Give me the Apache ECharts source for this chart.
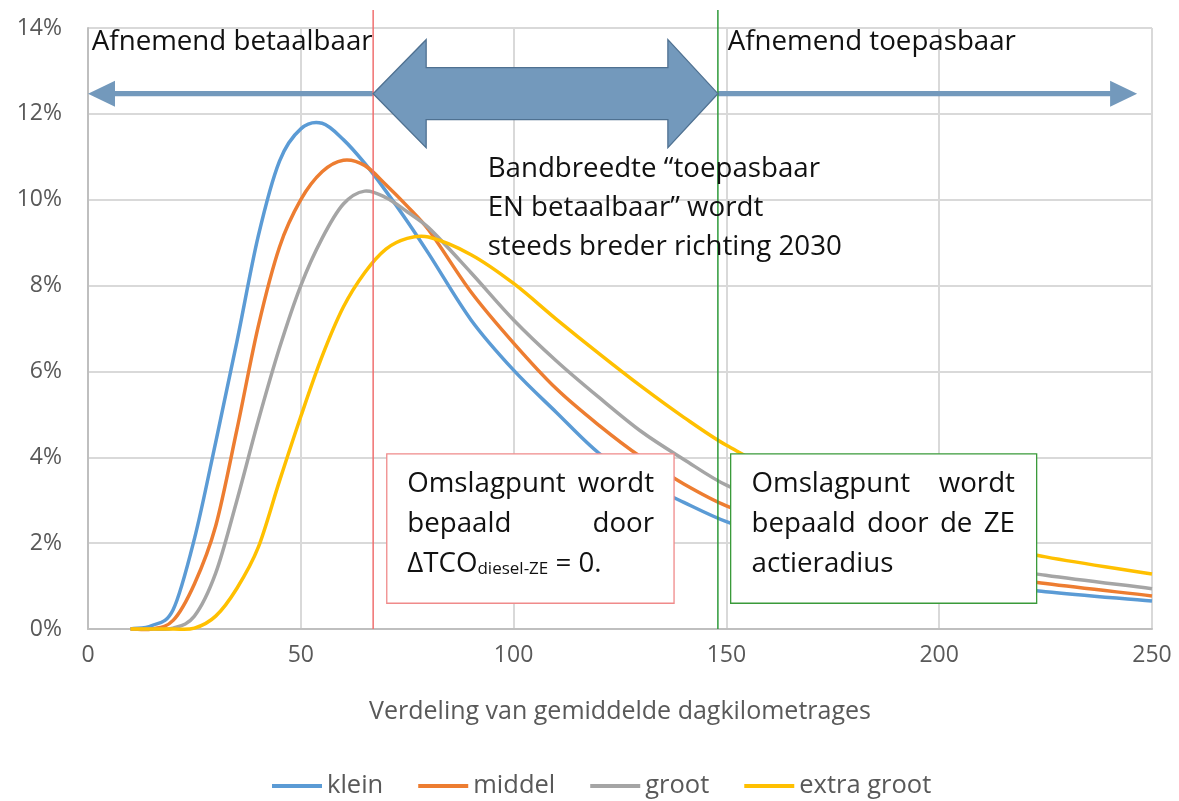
<!DOCTYPE html>
<html>
<head>
<meta charset="utf-8">
<script src="https://cdn.jsdelivr.net/npm/echarts@6/dist/echarts.min.js"></script>
<style>
  html, body { margin: 0; padding: 0; background: #fff; }
  #chart { width: 1179px; height: 801px; }
</style>
</head>
<body>
<div id="chart"></div>
<script>
// km per dag (x) en aandeel in % per voertuigklasse
const km = [10, 15, 20, 25, 30, 35, 40, 45, 50, 55, 60, 65, 70, 75, 80, 90, 100, 110, 120, 130, 140, 150, 175, 200, 225, 250]
const klein = [0, 0.08, 0.45, 2.1, 4.35, 6.7, 9.15, 10.9, 11.65, 11.78, 11.4, 10.85, 10.2, 9.5, 8.75, 7.2, 6.03, 5.05, 4.1, 3.45, 2.95, 2.5, 1.65, 1.15, 0.87, 0.65]
const middel = [0, 0, 0.2, 1.05, 2.4, 4.65, 7.05, 8.9, 10.0, 10.65, 10.92, 10.8, 10.35, 9.85, 9.3, 7.85, 6.66, 5.6, 4.75, 4.0, 3.38, 2.87, 1.95, 1.4, 1.06, 0.77]
const groot = [0, 0, 0.02, 0.3, 1.3, 3.0, 4.85, 6.55, 8.0, 9.1, 9.9, 10.2, 10.05, 9.72, 9.35, 8.3, 7.2, 6.25, 5.4, 4.6, 3.95, 3.35, 2.3, 1.65, 1.25, 0.94]
const extraGroot = [0, 0, 0, 0.02, 0.3, 0.95, 1.9, 3.45, 4.95, 6.35, 7.5, 8.3, 8.85, 9.1, 9.13, 8.72, 8.05, 7.22, 6.42, 5.65, 4.93, 4.28, 3.0, 2.2, 1.68, 1.28]

const seriesNames = ["klein", "middel", "groot", "extra groot"]
const seriesValues = [klein, middel, groot, extraGroot]
const colors = ["#5b9bd5", "#ed7d31", "#a5a5a5", "#ffc000"]

const xTicks = { min: 0, max: 250, step: 50 }
const yTicks = { min: 0, max: 14, step: 2 }

// annotaties (in data-eenheden)
const RED_X = 67
const GREEN_X = 148
const ARROW_Y = 12.47

const FONT = '"Open Sans", "Noto Sans", sans-serif'
const GREY_TXT = "#595959"

// vloeiende curve (hermite in x) door de pixelpunten
function smoothPath(pts) {
    const n = pts.length
    const m = pts.map((p, i) => {
        const a = pts[Math.max(i - 1, 0)]
        const b = pts[Math.min(i + 1, n - 1)]
        return (b[1] - a[1]) / (b[0] - a[0])
    })
    let d = "M" + pts[0][0] + "," + pts[0][1]
    for (let i = 0; i < n - 1; i++) {
        const h = (pts[i + 1][0] - pts[i][0]) / 3
        d += " C" + (pts[i][0] + h) + "," + (pts[i][1] + m[i] * h) + " " +
            (pts[i + 1][0] - h) + "," + (pts[i + 1][1] - m[i + 1] * h) + " " +
            pts[i + 1][0] + "," + pts[i + 1][1]
    }
    return d
}

const chart = echarts.init(document.getElementById("chart"))

chart.setOption({
    animation: false,
    grid: { left: 88, right: 27, top: 28, bottom: 172 },
    legend: {
        left: 272,
        top: 773,
        icon: "rect",
        itemWidth: 50,
        itemHeight: 4,
        itemGap: 35,
        padding: 0,
        textStyle: { fontSize: 25.5, color: GREY_TXT, fontFamily: FONT },
        data: seriesNames,
    },
    xAxis: {
        type: "value",
        min: xTicks.min,
        max: xTicks.max,
        interval: xTicks.step,
        name: "Verdeling van gemiddelde dagkilometrages",
        nameLocation: "middle",
        nameGap: 70,
        nameTextStyle: { fontSize: 25, color: GREY_TXT, fontFamily: FONT },
        axisLine: { show: true, lineStyle: { color: "#bfbfbf", width: 2 } },
        axisTick: { show: false },
        axisLabel: { fontSize: 23, color: GREY_TXT, fontFamily: FONT, margin: 15 },
        splitLine: { show: true, lineStyle: { color: "#d9d9d9", width: 2 } },
    },
    yAxis: {
        type: "value",
        min: yTicks.min,
        max: yTicks.max,
        interval: yTicks.step,
        axisLine: { show: true, lineStyle: { color: "#bfbfbf", width: 2 } },
        axisTick: { show: false },
        axisLabel: { fontSize: 23, color: GREY_TXT, fontFamily: FONT, margin: 26, formatter: "{value}%" },
        splitLine: { show: true, lineStyle: { color: "#d9d9d9", width: 2 } },
    },
    series: seriesNames.map((name, i) => ({
        name: name,
        type: "custom",
        itemStyle: { color: colors[i] },
        encode: { x: 0, y: 1 },
        silent: true,
        renderItem: (params, api) => {
            // hele curve in één keer tekenen
            if (params.dataIndex !== 0) return null
            const pts = km.map((x, j) => api.coord([x, seriesValues[i][j]]))
            return {
                type: "path",
                shape: { pathData: smoothPath(pts) },
                style: { stroke: colors[i], fill: "none", lineWidth: 3.5, lineJoin: "round" },
            }
        },
        data: km.map((x, j) => [x, seriesValues[i][j]]),
    })),
})

// helpers voor de annotaties
const px = (x, y) => chart.convertToPixel({ gridIndex: 0 }, [x, y])
const measure = document.createElement("canvas").getContext("2d")
function textWidth(s, size) {
    measure.font = size + "px " + FONT
    return measure.measureText(s).width
}
function txt(s, x, y, size, extra) {
    return {
        type: "text",
        z: 20,
        x: x,
        y: y,
        style: Object.assign({ text: s, font: size + "px " + FONT, fill: "#111", align: "left", verticalAlign: "middle" }, extra || {}),
    }
}
// baseline (data) -> midden van de tekst in pixels
function midY(baseVal, size) {
    return px(0, baseVal)[1] - 0.36 * size
}
function justified(words, xa, xb, baseVal, size) {
    const x0 = px(xa, 0)[0]
    const x1 = px(xb, 0)[0]
    const widths = words.map(w => textWidth(w, size))
    const gap = (x1 - x0 - widths.reduce((a, b) => a + b, 0)) / (words.length - 1)
    let x = x0
    return words.map((w, i) => {
        const el = txt(w, x, midY(baseVal, size), size)
        x += widths[i] + gap
        return el
    })
}
function box(xa, xb, ya, yb, stroke) {
    const p0 = px(xa, ya)
    const p1 = px(xb, yb)
    return {
        type: "rect",
        z: 15,
        shape: { x: p0[0], y: p0[1], width: p1[0] - p0[0], height: p1[1] - p0[1] },
        style: { fill: "#fff", stroke: stroke, lineWidth: 1.3 },
    }
}
function vline(xv, color) {
    const a = px(xv, 14.42)
    const b = px(xv, 0)
    return {
        type: "line",
        z: 12,
        shape: { x1: a[0], y1: a[1], x2: b[0], y2: b[1] },
        style: { stroke: color, lineWidth: 1.5 },
    }
}
// pijl met kop aan de kant van tip
function thinArrow(fromX, tipX, yv) {
    const a = px(fromX, yv)
    const t = px(tipX, yv)
    const dir = tipX > fromX ? 1 : -1
    const hb = t[0] - dir * 27
    const cy = t[1]
    return {
        type: "polygon",
        z: 12,
        shape: {
            points: [
                [a[0], cy - 2.6], [hb, cy - 2.6], [hb, cy - 13], [t[0], cy],
                [hb, cy + 13], [hb, cy + 2.6], [a[0], cy + 2.6],
            ],
        },
        style: { fill: "#7399bc" },
    }
}
function bigArrow(xl, xr, yv) {
    const l = px(xl, yv)
    const r = px(xr, yv)
    const cy = l[1]
    const bl = l[0] + 53
    const br = r[0] - 50
    return {
        type: "polygon",
        z: 13,
        shape: {
            points: [
                [l[0], cy], [bl, cy - 54], [bl, cy - 26], [br, cy - 26], [br, cy - 54], [r[0], cy],
                [br, cy + 54], [br, cy + 26], [bl, cy + 26], [bl, cy + 54],
            ],
        },
        style: { fill: "#7399bc", stroke: "#4f7191", lineWidth: 1.3 },
    }
}

const S = 27.7
const subS = 17
const line3 = px(75.0, 1.29)
const deltaW = textWidth("ΔTCO", S)
const subW = textWidth("diesel-ZE", subS)

const graphics = [
    thinArrow(RED_X, 0, ARROW_Y),
    thinArrow(GREEN_X, 246.5, ARROW_Y),
    bigArrow(RED_X, GREEN_X, ARROW_Y),
    txt("Afnemend betaalbaar", px(0.9, 0)[0], midY(13.44, S), S),
    txt("Afnemend toepasbaar", px(150.3, 0)[0], midY(13.44, S), S),
    txt("Bandbreedte \u201ctoepasbaar", px(93.9, 0)[0], midY(10.48, S), S),
    txt("EN betaalbaar\u201d wordt", px(93.9, 0)[0], midY(9.57, S), S),
    txt("steeds breder richting 2030", px(93.9, 0)[0], midY(8.67, S), S),
    box(70.2, 137.7, 4.08, 0.6, "#f08a8a"),
    box(151.0, 222.9, 4.08, 0.6, "#3a9a3a"),
    ...justified(["Omslagpunt", "wordt"], 75.0, 133.0, 3.14, S),
    ...justified(["bepaald", "door"], 75.0, 133.0, 2.22, S),
    txt("ΔTCO", line3[0], midY(1.29, S), S),
    txt("diesel-ZE", line3[0] + deltaW, midY(1.29, S) + 0.36 * S - 0.36 * subS + 2, subS),
    txt(" = 0.", line3[0] + deltaW + subW, midY(1.29, S), S),
    ...justified(["Omslagpunt", "wordt"], 155.9, 217.8, 3.14, S),
    ...justified(["bepaald", "door", "de", "ZE"], 155.9, 217.8, 2.22, S),
    txt("actieradius", px(155.9, 0)[0], midY(1.29, S), S),
    vline(RED_X, "#f07070"),
    vline(GREEN_X, "#2e9a3a"),
]

chart.setOption({ graphic: { elements: graphics } })

window.addEventListener("resize", function () {
    chart.resize()
})
</script>
</body>
</html>
